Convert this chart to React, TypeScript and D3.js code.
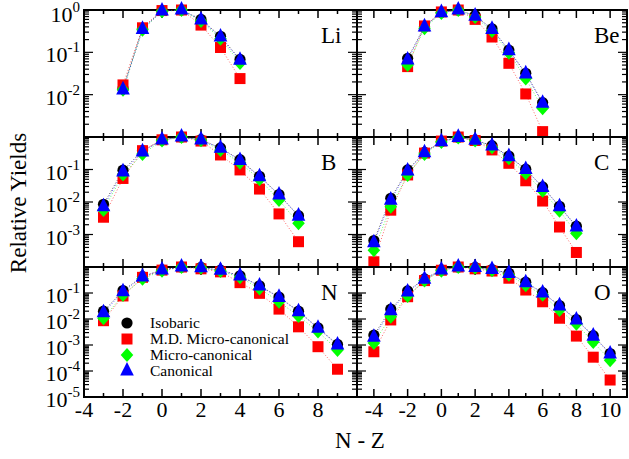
import React, { useEffect, useRef } from 'react';
import * as d3 from 'd3';

// N - Z values and relative yields, one set per element
const liX = [-2, -1, 0, 1, 2, 3, 4];
const liIso = [0.014, 0.37, 0.96, 1.0, 0.6, 0.24, 0.068];
const liMd = [0.017, 0.38, 0.97, 1.0, 0.44, 0.13, 0.024];
const liMc = [0.013, 0.34, 0.93, 1.0, 0.55, 0.21, 0.056];
const liCan = [0.013, 0.35, 0.95, 1.0, 0.58, 0.23, 0.065];

const beX = [-2, -1, 0, 1, 2, 3, 4, 5, 6];
const beIso = [0.072, 0.41, 0.88, 1.0, 0.74, 0.36, 0.113, 0.032, 0.0065];
const beMd = [0.046, 0.42, 0.9, 1.0, 0.6, 0.23, 0.055, 0.0104, 0.00134];
const beMc = [0.05, 0.37, 0.85, 1.0, 0.68, 0.32, 0.098, 0.024, 0.0048];
const beCan = [0.066, 0.4, 0.87, 1.0, 0.72, 0.35, 0.11, 0.031, 0.0063];

const bX = [-3, -2, -1, 0, 1, 2, 3, 4, 5, 6, 7];
const bIso = [0.0085, 0.095, 0.38, 0.82, 1.0, 0.83, 0.46, 0.2, 0.062, 0.017, 0.0038];
const bMd = [0.0034, 0.053, 0.38, 0.82, 1.0, 0.75, 0.28, 0.097, 0.025, 0.0043, 0.0006];
const bMc = [0.0057, 0.07, 0.3, 0.78, 1.0, 0.8, 0.4, 0.16, 0.05, 0.0115, 0.0022];
const bCan = [0.0072, 0.085, 0.35, 0.81, 1.0, 0.82, 0.45, 0.19, 0.06, 0.0165, 0.0037];

const cX = [-4, -3, -2, -1, 0, 1, 2, 3, 4, 5, 6, 7, 8];
const cIso = [0.00065, 0.013, 0.097, 0.34, 0.73, 0.98, 0.81, 0.54, 0.26, 0.102, 0.029, 0.0074, 0.0018];
const cMd = [0.000145, 0.0056, 0.068, 0.32, 0.75, 1.0, 0.78, 0.4, 0.155, 0.045, 0.0107, 0.0017, 0.00028];
const cMc = [0.00033, 0.0072, 0.068, 0.3, 0.7, 0.97, 0.78, 0.48, 0.22, 0.076, 0.022, 0.0054, 0.0011];
const cCan = [0.00056, 0.0115, 0.09, 0.33, 0.72, 0.98, 0.8, 0.53, 0.25, 0.1, 0.028, 0.0072, 0.0017];

const nX = [-3, -2, -1, 0, 1, 2, 3, 4, 5, 6, 7, 8, 9];
const nIso = [0.02, 0.125, 0.43, 0.78, 1.0, 0.96, 0.76, 0.46, 0.19, 0.07, 0.02, 0.0046, 0.00105];
const nMd = [0.0086, 0.077, 0.4, 0.76, 1.0, 0.85, 0.65, 0.25, 0.097, 0.024, 0.005, 0.00086, 0.000117];
const nMc = [0.0107, 0.084, 0.35, 0.72, 1.0, 0.93, 0.7, 0.4, 0.15, 0.046, 0.013, 0.0033, 0.00064];
const nCan = [0.0175, 0.112, 0.42, 0.77, 1.0, 0.95, 0.75, 0.45, 0.186, 0.068, 0.019, 0.0044, 0.001];

const oX = [-4, -3, -2, -1, 0, 1, 2, 3, 4, 5, 6, 7, 8, 9, 10];
const oIso = [0.0024, 0.024, 0.12, 0.35, 0.78, 1.0, 0.97, 0.8, 0.58, 0.26, 0.103, 0.033, 0.0095, 0.0023, 0.00047];
const oMd = [0.00055, 0.0092, 0.072, 0.3, 0.75, 1.0, 0.85, 0.7, 0.37, 0.13, 0.046, 0.0107, 0.0022, 0.00034, 0.000045];
const oMc = [0.0012, 0.0123, 0.077, 0.3, 0.72, 1.0, 0.93, 0.75, 0.5, 0.2, 0.085, 0.022, 0.0065, 0.0013, 0.00026];
const oCan = [0.002, 0.021, 0.11, 0.34, 0.77, 1.0, 0.96, 0.8, 0.57, 0.25, 0.1, 0.032, 0.0092, 0.0022, 0.00045];

const seriesNames = ['Isobaric', 'M.D. Micro-canonical', 'Micro-canonical', 'Canonical'];
const seriesColors = ['#000000', '#ff0000', '#00ff00', '#0000ff'];
const seriesShapes = ['circle', 'square', 'diamond', 'triangle'];

const xTickLabelsLeft = [-4, -2, 0, 2, 4, 6, 8];
const xTickLabelsRight = [-4, -2, 0, 2, 4, 6, 8, 10];
const yTickExponents = [[0, -1, -2], [-1, -2, -3], [-1, -2, -3, -4, -5]];

const panels = [
  { name: 'Li', row: 0, col: 0, x: liX, ys: [liIso, liMd, liMc, liCan] },
  { name: 'Be', row: 0, col: 1, x: beX, ys: [beIso, beMd, beMc, beCan] },
  { name: 'B', row: 1, col: 0, x: bX, ys: [bIso, bMd, bMc, bCan] },
  { name: 'C', row: 1, col: 1, x: cX, ys: [cIso, cMd, cMc, cCan] },
  { name: 'N', row: 2, col: 0, x: nX, ys: [nIso, nMd, nMc, nCan] },
  { name: 'O', row: 2, col: 1, x: oX, ys: [oIso, oMd, oMc, oCan] },
];

const colEdges = [[84, 357], [357, 627]];
const rowEdges = [[10, 137], [137, 267], [267, 397]];
const colDomains = [[-4, 10], [-5, 11]];
const rowDomains = [[1e-3, 1], [1e-4, 1], [1e-5, 1]];

const FONT = '"Liberation Serif", "Times New Roman", serif';

function shapePath(shape: string) {
  if (shape === 'circle') return d3.symbol(d3.symbolCircle, Math.PI * 5.6 * 5.6)();
  if (shape === 'square') return 'M-5.5,-5.5H5.5V5.5H-5.5Z';
  if (shape === 'diamond') return 'M0,-7L6.3,0L0,7L-6.3,0Z';
  return 'M0,-9L6.8,4.6L-6.8,4.6Z';
}

export default function App() {
  const ref = useRef<SVGSVGElement>(null);

  useEffect(() => {
    const svg = d3.select(ref.current);
    svg.selectAll('*').remove();
    svg.append('rect').attr('width', 629).attr('height', 459).attr('fill', '#fff');

    panels.forEach(p => {
      const x = d3.scaleLinear().domain(colDomains[p.col]).range(colEdges[p.col]);
      const y = d3.scaleLog().domain(rowDomains[p.row]).range([rowEdges[p.row][1], rowEdges[p.row][0]]);
      const g = svg.append('g');
      const [x0, x1] = colEdges[p.col];
      const [y0, y1] = rowEdges[p.row];

      // ticks on all four sides, pointing inwards
      const [dx0, dx1] = colDomains[p.col];
      for (let t = Math.ceil(dx0); t <= dx1; t++) {
        const len = t % 2 === 0 ? 8 : 4;
        const px = x(t);
        g.append('line').attr('x1', px).attr('x2', px).attr('y1', y1).attr('y2', y1 - len)
          .attr('stroke', '#000').attr('stroke-width', 1.5);
        g.append('line').attr('x1', px).attr('x2', px).attr('y1', y0).attr('y2', y0 + len)
          .attr('stroke', '#000').attr('stroke-width', 1.5);
      }
      const [dy0, dy1] = rowDomains[p.row];
      for (let d = Math.round(Math.log10(dy0)); d <= 0; d++) {
        for (let m = 1; m <= 9; m++) {
          const v = m * Math.pow(10, d);
          if (v < dy0 * 0.999 || v > dy1 * 1.001) continue;
          const len = m === 1 ? 9 : 5;
          const py = y(v);
          g.append('line').attr('x1', x0).attr('x2', x0 + len).attr('y1', py).attr('y2', py)
            .attr('stroke', '#000').attr('stroke-width', 1.2);
          g.append('line').attr('x1', x1).attr('x2', x1 - len).attr('y1', py).attr('y2', py)
            .attr('stroke', '#000').attr('stroke-width', 1.2);
        }
      }

      g.append('rect').attr('x', x0).attr('y', y0).attr('width', x1 - x0).attr('height', y1 - y0)
        .attr('fill', 'none').attr('stroke', '#000').attr('stroke-width', 2);

      g.append('text').attr('x', p.col === 0 ? 321 : 594).attr('y', y0 + 33)
        .attr('font-family', FONT).attr('font-size', 23).text(p.name);

      const line = d3.line<number>().x((_, i) => x(p.x[i])).y(v => y(v));
      p.ys.forEach((vals, s) => {
        g.append('path').attr('d', line(vals)).attr('fill', 'none')
          .attr('stroke', seriesColors[s]).attr('stroke-width', 1)
          .attr('stroke-dasharray', '1,2').attr('opacity', 0.6);
      });
      p.ys.forEach((vals, s) => {
        g.selectAll(null).data(vals).enter().append('path')
          .attr('d', shapePath(seriesShapes[s]))
          .attr('transform', (v, i) => `translate(${x(p.x[i])},${y(v)})`)
          .attr('fill', seriesColors[s]);
      });
    });

    // y tick labels
    rowDomains.forEach((dom, r) => {
      const y = d3.scaleLog().domain(dom).range([rowEdges[r][1], rowEdges[r][0]]);
      yTickExponents[r].forEach(e => {
        const base = Math.max(y(Math.pow(10, e)) + 10, 22);
        const t = svg.append('text').attr('x', 80).attr('y', base)
          .attr('text-anchor', 'end').attr('font-family', FONT).attr('font-size', 22);
        t.append('tspan').text('10');
        t.append('tspan').attr('font-size', 15).attr('dy', -10).text(e === 0 ? '0' : `-${-e}`);
      });
    });

    // x tick labels
    [xTickLabelsLeft, xTickLabelsRight].forEach((labels, c) => {
      const x = d3.scaleLinear().domain(colDomains[c]).range(colEdges[c]);
      labels.forEach(v => {
        svg.append('text').attr('x', x(v)).attr('y', 417).attr('text-anchor', 'middle')
          .attr('font-family', FONT).attr('font-size', 22).text(v);
      });
    });

    svg.append('text').attr('x', 360).attr('y', 448).attr('text-anchor', 'middle')
      .attr('font-family', FONT).attr('font-size', 23).text('N - Z');
    svg.append('text').attr('transform', 'translate(26,203) rotate(-90)').attr('text-anchor', 'middle')
      .attr('font-family', FONT).attr('font-size', 23).text('Relative Yields');

    // legend
    const legend = svg.append('g');
    seriesNames.forEach((name, s) => {
      const ly = 323 + s * 16;
      legend.append('path').attr('d', shapePath(seriesShapes[s]))
        .attr('transform', `translate(127,${ly})`).attr('fill', seriesColors[s]);
      legend.append('text').attr('x', 150).attr('y', ly + 5)
        .attr('font-family', FONT).attr('font-size', 15.5).text(name);
    });
  }, []);

  return (
    <svg ref={ref} width={629} height={459}
      style={{ position: 'absolute', left: 0, top: 0, display: 'block' }} />
  );
}
